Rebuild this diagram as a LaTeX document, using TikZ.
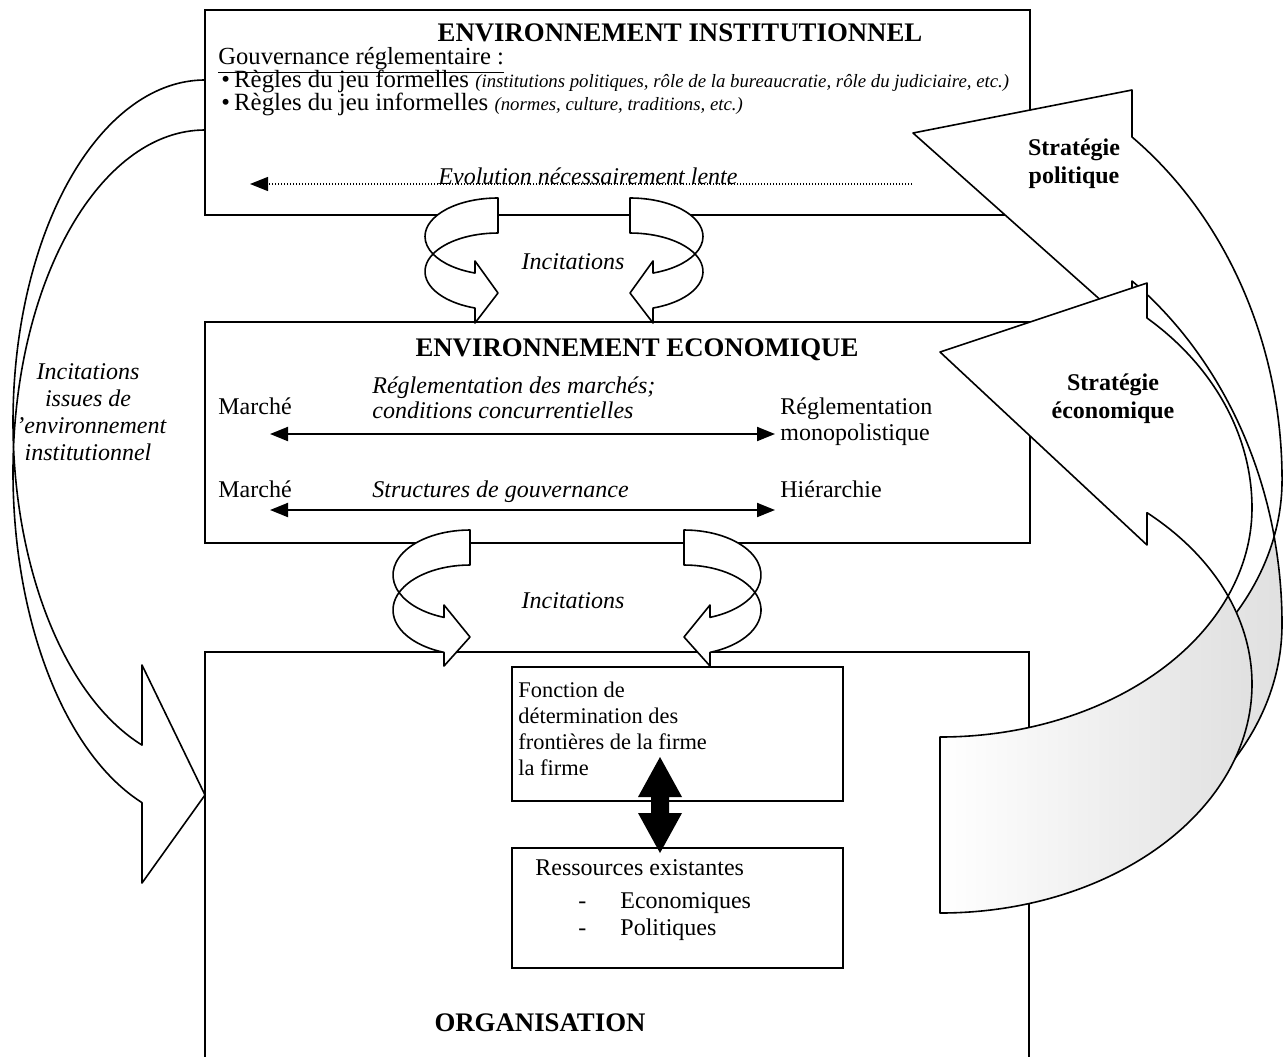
\documentclass[tikz,border=0pt]{standalone}
\usepackage{fontspec}
\setmainfont{Liberation Serif}
\usetikzlibrary{arrows.meta}
\newcommand{\incupper}{%
  \path[rib] (498,198) arc[start angle=270, end angle=152.96, x radius=73, y radius=38.5]
    arc[start angle=207.04, end angle=270, x radius=73, y radius=38.5] -- cycle;
  \path[rib] ({498+73*cos(152.96)},{236.5+38.5*sin(152.96)})
    arc[start angle=152.96, end angle=108.4, x radius=73, y radius=38.5]
    -- (475,261) -- (498,293) -- (475,323) -- ({498+73*cos(108.4)},{271.5+38.5*sin(108.4)})
    arc[start angle=108.4, end angle=207.04, x radius=73, y radius=38.5] -- cycle;
}
\newcommand{\inclower}{%
  \path[rib] (470,530) arc[start angle=270, end angle=157.115, x radius=77, y radius=45]
    arc[start angle=202.885, end angle=270, x radius=77, y radius=45] -- cycle;
  \path[rib] ({470+77*cos(157.115)},{575+45*sin(157.115)})
    arc[start angle=157.115, end angle=109.73, x radius=77, y radius=45]
    -- (444,605) -- (470,637) -- (444,666) -- ({470+77*cos(109.73)},{610+45*sin(109.73)})
    arc[start angle=109.73, end angle=202.885, x radius=77, y radius=45] -- cycle;
}
\begin{document}
\begin{tikzpicture}[x=0.5pt,y=-0.5pt,
  box/.style={draw, line width=1pt, fill=white, inner sep=0pt, outer sep=0pt},
  rib/.style={draw, line width=0.8pt, fill=white, line join=round},
  ribback/.style={draw, line width=0.8pt, left color=white, right color=black!12, line join=round},
  ttl/.style={font=\fontsize{13.4}{16}\selectfont\bfseries, inner sep=0pt},
  txt/.style={font=\fontsize{12}{14}\selectfont, inner sep=0pt},
  itx/.style={font=\fontsize{12}{14}\selectfont\itshape, inner sep=0pt},
  strat/.style={font=\fontsize{12}{14}\selectfont\bfseries, align=center, inner sep=0pt},
  dbl/.style={line width=1pt, {Triangle[length=9pt,width=7pt]}-{Triangle[length=9pt,width=7pt]}},
  evo/.style={line width=0.7pt, dash pattern=on 0.5pt off 1pt, -{Triangle[length=9pt,width=7pt]}},
]
\useasboundingbox (0,0) rectangle (1284,1056);
% main boxes
\node[box, anchor=north west, minimum width=412.5pt, minimum height=102.5pt] (inst) at (205,10) {};
\node[box, anchor=north west, minimum width=412.5pt, minimum height=110.5pt] (eco) at (205,322) {};
% Strategie politique (behind)
\path[rib] (913,133) -- (1132,90) -- (1132,137)
  arc[start angle=-53.6, end angle=0, x radius=369, y radius=426]
  arc[start angle=0, end angle=11.854, x radius=369, y radius=275]
  arc[start angle=-11.854, end angle=-53.6, x radius=369, y radius=426]
  -- (1132,328) -- cycle;
\path[ribback] ({913+369*cos(11.854)},{480+275*sin(11.854)})
  arc[start angle=11.854, end angle=90, x radius=369, y radius=275]
  -- (913,899)
  arc[start angle=90, end angle=0, x radius=369, y radius=275]
  arc[start angle=0, end angle=-11.854, x radius=369, y radius=426] -- cycle;
% organisation box
\node[box, anchor=north west, minimum width=412pt, minimum height=215pt] (org) at (205,652) {};
% Strategie economique
\path[ribback] ({940+312*cos(22.6)},{508+229*sin(22.6)})
  arc[start angle=22.6, end angle=90, x radius=312, y radius=229]
  -- (940,913)
  arc[start angle=90, end angle=0, x radius=312, y radius=229]
  arc[start angle=0, end angle=-22.6, x radius=312, y radius=229] -- cycle;
\path[rib] (940,352) -- (1147,283) -- (1147,318)
  arc[start angle=-48.43, end angle=0, x radius=312, y radius=254]
  arc[start angle=0, end angle=22.6, x radius=312, y radius=229]
  arc[start angle=-22.6, end angle=-48.43, x radius=312, y radius=229]
  -- (1147,545) -- cycle;
% inner boxes
\node[box, anchor=north west, minimum width=165.5pt, minimum height=67pt] (fonc) at (512,667) {};
\node[box, anchor=north west, minimum width=165.5pt, minimum height=60pt] (ress) at (512,848) {};
% small incitation arrows
\incupper
\begin{scope}[shift={(1128,0)}, xscale=-1] \incupper \end{scope}
\inclower
\begin{scope}[shift={(1154,0)}, xscale=-1] \inclower \end{scope}
% left label
\begin{scope}
  \clip (16,330) rectangle (200,480);
  \node[itx, align=center, font=\fontsize{12}{13.4}\selectfont\itshape] (incl) at (88,412) {Incitations\\issues de\\l'environnement\\institutionnel};
\end{scope}
% left big arrow
\path[rib] (205,80) arc[start angle=270, end angle=175.808, x radius=192, y radius=342]
  arc[start angle=184.192, end angle=270, x radius=192, y radius=342] -- cycle;
\path[rib] ({205+192*cos(175.808)},{422+342*sin(175.808)})
  arc[start angle=175.808, end angle=109.153, x radius=192, y radius=342]
  -- (142,665) -- (205,795) -- (142,883) -- ({205+192*cos(109.153)},{472+350*sin(109.153)})
  arc[start angle=109.153, end angle=180, x radius=192, y radius=350]
  arc[start angle=180, end angle=184.192, x radius=192, y radius=342] -- cycle;
% texts top box
\node[ttl, anchor=base] (t1) at (680,41) {ENVIRONNEMENT INSTITUTIONNEL};
\node[txt, anchor=base west, font=\fontsize{12.3}{14}\selectfont] (gov) at (218,64) {\underline{Gouvernance réglementaire :}};
\node[txt, anchor=base west, font=\fontsize{12.4}{14}\selectfont] (b1) at (221,87) {\textbullet\,Règles du jeu formelles {\fontsize{9.4}{11}\selectfont\itshape (institutions politiques, rôle de la bureaucratie, rôle du judiciaire, etc.)}};
\node[txt, anchor=base west, font=\fontsize{12.4}{14}\selectfont] (b2) at (221,110) {\textbullet\,Règles du jeu informelles {\fontsize{9.4}{11}\selectfont\itshape (normes, culture, traditions, etc.)}};
\coordinate (evE) at (912,184);
\coordinate (evW) at (250,184);
\draw[evo] (evE) -- (evW);
\node[itx, anchor=base] (evt) at (588,184) {Evolution nécessairement lente};
% texts middle box
\node[ttl, anchor=base] (t2) at (637,356) {ENVIRONNEMENT ECONOMIQUE};
\node[txt, anchor=base west] (m1) at (218,414) {Marché};
\node[itx, anchor=base west] (rg1) at (372,393) {Réglementation des marchés;};
\node[itx, anchor=base west] (rg2) at (372,418) {conditions concurrentielles};
\node[txt, anchor=base west] (rm1) at (780,414) {Réglementation};
\node[txt, anchor=base west] (rm2) at (780,440) {monopolistique};
\node[txt, anchor=base west] (m2) at (218,497) {Marché};
\node[itx, anchor=base west] (sg) at (372,497) {Structures de gouvernance};
\node[txt, anchor=base west] (hi) at (780,497) {Hiérarchie};
\coordinate (a1L) at (270,434); \coordinate (a1R) at (775,434);
\coordinate (a2L) at (270,510); \coordinate (a2R) at (775,510);
\draw[dbl] (a1L) -- (a1R);
\draw[dbl] (a2L) -- (a2R);
% incitations labels
\node[itx] (inc1) at (573,262) {Incitations};
\node[itx] (inc2) at (573,601) {Incitations};
% strategy labels
\node[strat] (sp) at (1074,164) {Stratégie\\politique};
\node[strat] (se) at (1113,399) {Stratégie\\économique};
% organisation
\node[ttl, anchor=base] (ot) at (540,1031) {ORGANISATION};
\node[anchor=north west, align=left, inner sep=0pt, font=\fontsize{11.2}{13}\selectfont] (ft) at (518,682) {Fonction de\\détermination des\\frontières de la firme\\la firme};
\node[txt, anchor=base west] (r1) at (535,875) {Ressources existantes};
\node[txt, anchor=base west] (r2d) at (578,908) {-};
\node[txt, anchor=base west] (r2) at (620,908) {Economiques};
\node[txt, anchor=base west] (r3d) at (578,935) {-};
\node[txt, anchor=base west] (r3) at (620,935) {Politiques};
% black double arrow between the two inner boxes
\fill (660,757) -- (682,797) -- (669,797) -- (669,813) -- (682,813) -- (660,853)
  -- (638,813) -- (651,813) -- (651,797) -- (638,797) -- cycle;
\end{tikzpicture}
\end{document}
